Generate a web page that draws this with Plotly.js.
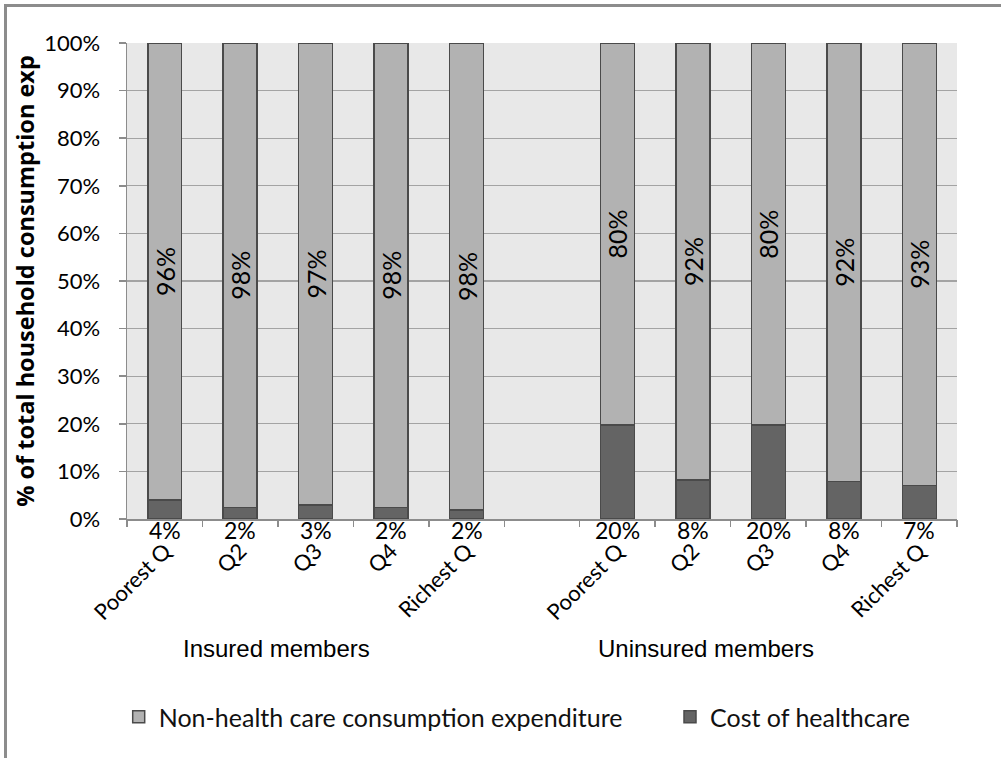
<!DOCTYPE html>
<html>
<head>
<meta charset="utf-8">
<script src="https://cdn.plot.ly/plotly-3.0.1.min.js"></script>
<style>
  html, body { margin: 0; padding: 0; background: #fff; }
  #chart { position: absolute; left: 0; top: 0; width: 1001px; height: 758px; }
  #frame { position: absolute; left: 4px; top: 4px; width: 1010px; height: 770px;
           border-left: 3px solid #8c8c8c; border-top: 3px solid #8c8c8c; pointer-events: none; }
</style>
</head>
<body>
<div id="chart"></div>
<div id="frame"></div>
<script>
// ---- data ----
const quintiles = ['Poorest Q', 'Q2', 'Q3', 'Q4', 'Richest Q'];
const groups = ['Insured members', 'Uninsured members'];
const insuredCost = [4.0, 2.4, 2.9, 2.4, 1.9];
const insuredNonHealth = [96.0, 97.6, 97.1, 97.6, 98.1];
const uninsuredCost = [19.8, 8.2, 19.7, 7.9, 7.0];
const uninsuredNonHealth = [80.2, 91.8, 80.3, 92.1, 93.0];
const seriesNames = ['Non-health care consumption expenditure', 'Cost of healthcare'];
const yTickVals = [0, 10, 20, 30, 40, 50, 60, 70, 80, 90, 100];
const yTickText = ['0%', '10%', '20%', '30%', '40%', '50%', '60%', '70%', '80%', '90%', '100%'];

// ---- positions (insured slots 1-5, blank slot 6, uninsured 7-11) ----
const xIns = quintiles.map((_, i) => i + 1);
const xUnins = quintiles.map((_, i) => i + 1 + quintiles.length + 1);
const xAll = xIns.concat(xUnins);
const costAll = insuredCost.concat(uninsuredCost);
const nonAll = insuredNonHealth.concat(uninsuredNonHealth);
const nSlots = quintiles.length * 2 + 1;
const boundaries = [];
for (let i = 0; i <= nSlots; i++) boundaries.push(i + 0.5);

const FONT = 'Lato, "Open Sans", sans-serif';
const GROUPFONT = '"Liberation Sans", Arial, sans-serif';

const traces = [
  {
    type: 'bar', name: seriesNames[1], x: xAll, y: costAll,
    width: 0.45, legend: 'legend2',
    marker: { color: '#646464', line: { color: '#4a4a4a', width: 1.5 } },
    hoverinfo: 'skip', cliponaxis: false
  },
  {
    type: 'bar', name: seriesNames[0], x: xAll, y: nonAll,
    width: 0.45, legend: 'legend',
    marker: { color: '#b2b2b2', line: { color: '#4a4a4a', width: 1.5 } },
    texttemplate: '%{y:.0f}%', textposition: 'inside', insidetextanchor: 'middle',
    textangle: -90, constraintext: 'none',
    textfont: { family: FONT, size: 25, color: '#000' },
    hoverinfo: 'skip', cliponaxis: false
  },
  {
    type: 'scatter', x: [], y: [], xaxis: 'x2', yaxis: 'y', showlegend: false, hoverinfo: 'skip'
  }
];

const annotations = [];
xAll.forEach((x, i) => {
  annotations.push({
    x: x, y: 0, xref: 'x', yref: 'y', xanchor: 'center', yanchor: 'top', yshift: 5,
    text: Math.round(costAll[i]) + '%', showarrow: false,
    font: { family: FONT, size: 23, color: '#000' }
  });
});
annotations.push({
  x: (276 - 127) / 830, y: (519 - 648) / 476, xref: 'paper', yref: 'paper',
  xanchor: 'center', yanchor: 'middle',
  text: groups[0], showarrow: false, font: { family: GROUPFONT, size: 24, color: '#000' }
});
annotations.push({
  x: (706 - 127) / 830, y: (519 - 648) / 476, xref: 'paper', yref: 'paper',
  xanchor: 'center', yanchor: 'middle',
  text: groups[1], showarrow: false, font: { family: GROUPFONT, size: 24, color: '#000' }
});

const legendCommon = {
  orientation: 'h', xanchor: 'left', yref: 'container', y: 1 - 717 / 758, yanchor: 'middle',
  font: { family: FONT, size: 25, color: '#111' }, bgcolor: 'rgba(0,0,0,0)'
};

const layout = {
  width: 1001, height: 758,
  margin: { l: 127, r: 44, t: 43, b: 239 },
  paper_bgcolor: '#ffffff', plot_bgcolor: '#e8e8e8',
  barmode: 'stack',
  showlegend: true,
  legend: Object.assign({}, legendCommon, { x: -0.01 }),
  legend2: Object.assign({}, legendCommon, { x: (670 - 127) / 830 }),
  xaxis: {
    range: [0.5, nSlots + 0.5], tickmode: 'array', tickvals: xAll,
    ticktext: quintiles.concat(quintiles), tickangle: -45, ticks: '',
    ticklabelstandoff: 9, automargin: false,
    showline: true, linecolor: '#8c8c8c', linewidth: 1.5, showgrid: false, zeroline: false,
    tickfont: { family: FONT, size: 22, color: '#000' }, fixedrange: true
  },
  xaxis2: {
    overlaying: 'x', anchor: 'y', side: 'bottom', range: [0.5, nSlots + 0.5],
    tickmode: 'array', tickvals: boundaries, ticks: 'outside', ticklen: 7,
    tickcolor: '#8c8c8c', tickwidth: 1.5, showticklabels: false, showgrid: false,
    showline: false, zeroline: false, automargin: false
  },
  yaxis: {
    range: [0, 100], tickmode: 'array', tickvals: yTickVals, ticktext: yTickText,
    ticks: 'outside', ticklen: 7, tickcolor: '#8c8c8c', tickwidth: 1.5,
    ticklabelstandoff: 14, automargin: false,
    showline: true, linecolor: '#8c8c8c', linewidth: 1.5,
    showgrid: true, gridcolor: '#a3a3a3', gridwidth: 1.3, zeroline: false,
    tickfont: { family: FONT, size: 22, color: '#000' },
    title: { text: '% of total household consumption exp', standoff: 3,
             font: { family: '"Open Sans", Lato, sans-serif', size: 23.5, color: '#000', weight: 'bold' } }
  },
  annotations: annotations
};

Plotly.newPlot('chart', traces, layout, { staticPlot: true, displayModeBar: false });
</script>
</body>
</html>
